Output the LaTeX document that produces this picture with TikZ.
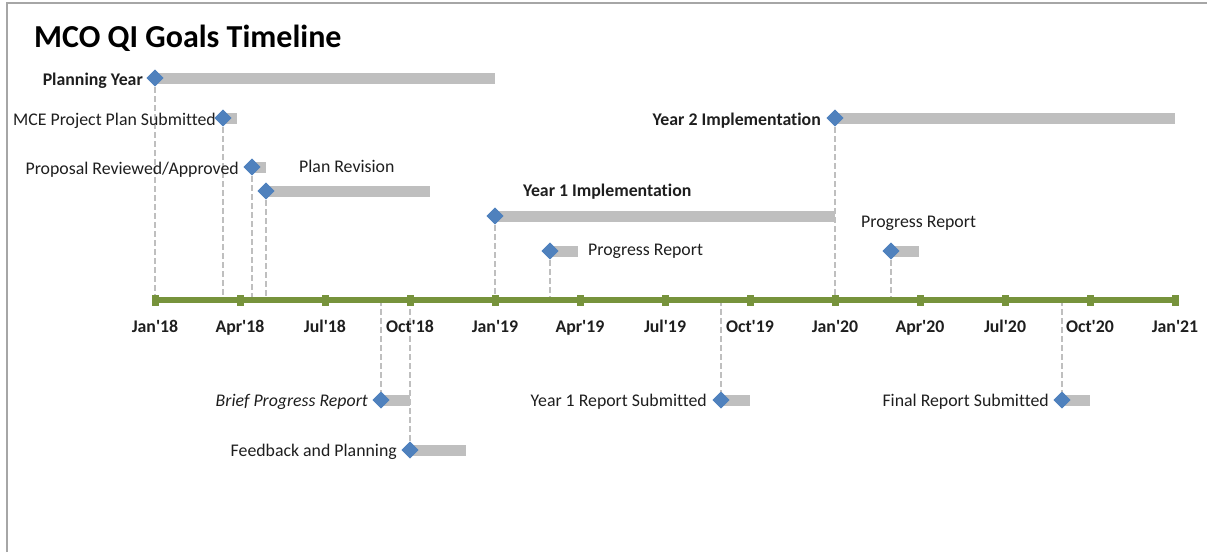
\documentclass[tikz,border=0pt]{standalone}
\usepackage{fontspec}
\setmainfont{Carlito}[Ligatures=NoCommon]
\usetikzlibrary{shapes.geometric}
\definecolor{msblue}{HTML}{4F81BD}
\definecolor{bargray}{HTML}{BFBFBF}
\definecolor{axisgreen}{HTML}{77933C}
\definecolor{framegray}{HTML}{A6A6A6}
\definecolor{txt}{HTML}{1E1E1E}
\newcommand{\ap}{\textquotesingle}
\begin{document}
\begin{tikzpicture}[x=1pt,y=-1pt,
  ms/.style={diamond,fill=msblue,draw=none,minimum width=17pt,minimum height=17pt,inner sep=0pt},
  bar/.style={fill=bargray,draw=none},
  guide/.style={draw=bargray,line width=1.8pt,dash pattern=on 6pt off 3pt},
  lbl/.style={inner sep=0pt,text=txt,font=\fontsize{17.8}{20}\selectfont},
  blbl/.style={lbl,font=\fontsize{17.8}{20}\selectfont\bfseries},
  axlbl/.style={inner sep=0pt,text=txt,font=\fontsize{17.8}{20}\selectfont\bfseries,anchor=base},
  tick/.style={fill=axisgreen,draw=none,minimum width=7pt,minimum height=11pt,inner sep=0pt},
  axisline/.style={draw=axisgreen,line width=6pt}
]
\useasboundingbox (0,0) rectangle (1207,552);
\draw[framegray,line width=1.5pt] (7,552) -- (7,3) -- (1207,3);

% title
\node[inner sep=0pt,anchor=base west,font=\fontsize{32}{36}\selectfont\bfseries] (title) at (34,47) {MCO QI Goals Timeline};

% bars
\fill[bar] (155,73) rectangle (495,84);
\fill[bar] (223,113) rectangle (237,124);
\fill[bar] (252,162) rectangle (266,173);
\fill[bar] (266,186) rectangle (430,197);
\fill[bar] (495,211) rectangle (835,222);
\fill[bar] (550,246) rectangle (578,257);
\fill[bar] (835,113) rectangle (1175,124);
\fill[bar] (891,246) rectangle (919,257);
\fill[bar] (381,395) rectangle (410,406);
\fill[bar] (410,445) rectangle (466,456);
\fill[bar] (721,395) rectangle (750,406);
\fill[bar] (1062,395) rectangle (1090,406);

% axis coordinates
\coordinate (a1) at (155,300);
\coordinate (a2) at (223,300);
\coordinate (a3) at (252,300);
\coordinate (a4) at (266,300);
\coordinate (a5) at (495,300);
\coordinate (a6) at (550,300);
\coordinate (a7) at (835,300);
\coordinate (a8) at (891,300);
\coordinate (a9) at (381,300);
\coordinate (a10) at (410,300);
\coordinate (a11) at (721,300);
\coordinate (a12) at (1062,300);
\coordinate (axs) at (155,300);
\coordinate (axe) at (1175,300);

% milestones (diamond nodes)
\path (155,78) node[ms] (m1) {}
      (223,118) node[ms] (m2) {}
      (252,167) node[ms] (m3) {}
      (266,191) node[ms] (m4) {}
      (495,216) node[ms] (m5) {}
      (550,251) node[ms] (m6) {}
      (835,118) node[ms] (m7) {}
      (891,251) node[ms] (m8) {}
      (381,400) node[ms] (m9) {}
      (410,450) node[ms] (m10) {}
      (721,400) node[ms] (m11) {}
      (1062,400) node[ms] (m12) {};

% guide lines
\draw[guide] (m1.center) -- (a1);
\draw[guide] (m2.center) -- (a2);
\draw[guide] (m3.center) -- (a3);
\draw[guide] (m4.center) -- (a4);
\draw[guide] (m5.center) -- (a5);
\draw[guide] (m6.center) -- (a6);
\draw[guide] (m7.center) -- (a7);
\draw[guide] (m8.center) -- (a8);
\draw[guide] (a9) -- (m9.center);
\draw[guide] (a10) -- (m10.center);
\draw[guide] (a11) -- (m11.center);
\draw[guide] (a12) -- (m12.center);

% redraw diamonds on top
\foreach \p in {(155,78),(223,118),(252,167),(266,191),(495,216),(550,251),(835,118),(891,251),(381,400),(410,450),(721,400),(1062,400)}
  \node[ms] at \p {};

% axis
\draw[axisline] (axs) -- (axe);
\foreach \x/\n in {155/t0,240/t1,325/t2,410/t3,495/t4,580/t5,665/t6,750/t7,835/t8,920/t9,1005/t10,1090/t11,1175/t12}
  \node[tick] (\n) at (\x,300) {};

% axis labels
\node[axlbl] (l0) at (155,332) {Jan\ap18};
\node[axlbl] (l1) at (240,332) {Apr\ap18};
\node[axlbl] (l2) at (325,332) {Jul\ap18};
\node[axlbl] (l3) at (410,332) {Oct\ap18};
\node[axlbl] (l4) at (495,332) {Jan\ap19};
\node[axlbl] (l5) at (580,332) {Apr\ap19};
\node[axlbl] (l6) at (665,332) {Jul\ap19};
\node[axlbl] (l7) at (750,332) {Oct\ap19};
\node[axlbl] (l8) at (835,332) {Jan\ap20};
\node[axlbl] (l9) at (920,332) {Apr\ap20};
\node[axlbl] (l10) at (1005,332) {Jul\ap20};
\node[axlbl] (l11) at (1090,332) {Oct\ap20};
\node[axlbl] (l12) at (1175,332) {Jan\ap21};

% milestone labels
\node[blbl,anchor=mid east] (n1) at (143,83) {Planning Year};
\node[lbl,anchor=mid east] (n2) at (216,123) {MCE Project Plan Submitted};
\node[lbl,anchor=mid east] (n3) at (239,172) {Proposal Reviewed/Approved};
\node[lbl,anchor=mid west] (n4) at (299,170) {Plan Revision};
\node[blbl,anchor=mid west] (n5) at (523,194) {Year 1 Implementation};
\node[lbl,anchor=mid west] (n6) at (588,253) {Progress Report};
\node[blbl,anchor=mid east] (n7) at (821,123) {Year 2 Implementation};
\node[lbl,anchor=mid west] (n8) at (861,225) {Progress Report};
\node[lbl,anchor=mid east,font=\fontsize{17.8}{20}\selectfont\itshape] (n9) at (368,404) {Brief Progress Report};
\node[lbl,anchor=mid east] (n10) at (397,454) {Feedback and Planning};
\node[lbl,anchor=mid east] (n11) at (707,404) {Year 1 Report Submitted};
\node[lbl,anchor=mid east] (n12) at (1049,404) {Final Report Submitted};
\end{tikzpicture}
\end{document}
